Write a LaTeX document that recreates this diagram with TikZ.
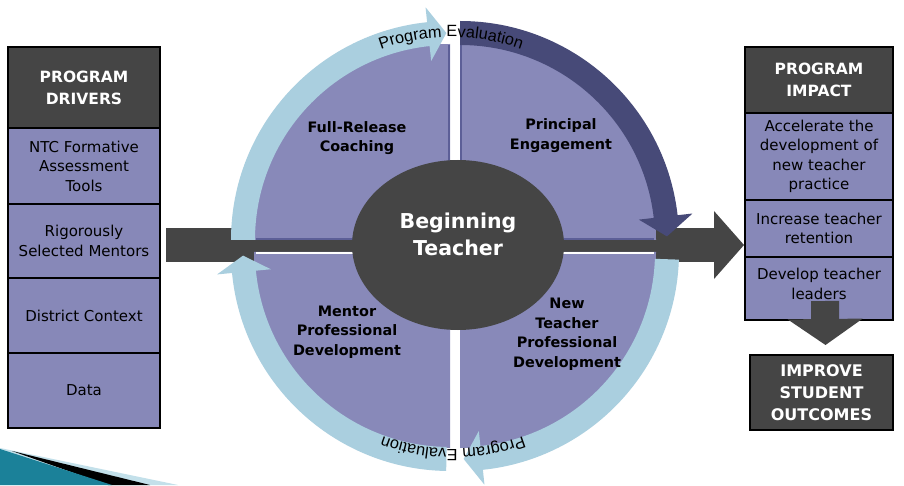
\documentclass[tikz,border=0pt]{standalone}
\usepackage{fontspec}
\setmainfont{DejaVu Sans}
\newfontfamily\evalfont{Liberation Sans}
\usetikzlibrary{calc,arrows.meta,decorations.text,shapes.geometric}

\definecolor{rowfill}{HTML}{8788B8}
\definecolor{headfill}{HTML}{454545}
\definecolor{quadfill}{HTML}{8889B9}
\definecolor{quadedge}{HTML}{5C5F97}
\definecolor{ringdark}{HTML}{474A78}
\definecolor{ringlight}{HTML}{AACFDF}
\definecolor{swooshteal}{HTML}{1B8199}
\definecolor{swooshlight}{HTML}{C3E0EA}

\tikzset{
  panelrow/.style={draw=black, line width=2pt, fill=rowfill, inner sep=0pt,
    align=center, font=\fontsize{15}{19.5}\selectfont},
  panelhead/.style={panelrow, fill=headfill, text=white,
    font=\bfseries\fontsize{15.5}{22}\selectfont},
  quadlabel/.style={align=center, inner sep=0pt,
    font=\bfseries\fontsize{14.4}{19.5}\selectfont},
  quad/.style={fill=quadfill},
  blockarrow/.style={draw=headfill, line width=#1},
  evaltext/.style={decorate, decoration={text along path, text align=center,
    text={|\evalfont\fontsize{16.3}{18}\selectfont|Program Evaluation}}},
}

\begin{document}
\begin{tikzpicture}[x=1pt, y=1pt]
\useasboundingbox (0,0) rectangle (904,485);
\fill[white] (0,0) rectangle (904,485);

% corner swoosh of the slide
\fill[swooshlight] (0,37) -- (178,0) -- (0,0) -- cycle;
\fill[black] (12,34) -- (150,0) -- (108,0) -- cycle;
\fill[swooshteal] (0,36) -- (112,0) -- (0,0) -- cycle;

% program drivers column
\node[panelhead, minimum width=152pt, minimum height=81pt] (ldh) at (84,397.5) {PROGRAM\\DRIVERS};
\node[panelrow, minimum width=152pt, minimum height=76pt] (l1) at (84,319) {NTC Formative\\Assessment\\Tools};
\node[panelrow, minimum width=152pt, minimum height=74pt] (l2) at (84,244) {Rigorously\\Selected Mentors};
\node[panelrow, minimum width=152pt, minimum height=75pt] (l3) at (84,169.5) {District Context};
\node[panelrow, minimum width=152pt, minimum height=75pt] (l4) at (84,94.5) {Data};

% program impact column
\node[panelhead, minimum width=148pt, minimum height=66pt] (rh) at (819,405) {PROGRAM\\IMPACT};
\node[panelrow, minimum width=148pt, minimum height=87pt] (r1) at (819,328.5) {Accelerate the\\development of\\new teacher\\practice};
\node[panelrow, minimum width=148pt, minimum height=57pt] (r2) at (819,256.5) {Increase teacher\\retention};
\node[panelrow, minimum width=148pt, minimum height=63pt, text depth=9pt] (r3) at (819,196.5) {Develop teacher\\leaders};
\node[panelhead, minimum width=143pt, minimum height=75pt,
  font=\bfseries\fontsize{16}{22}\selectfont] (imp) at (821.5,92.5) {IMPROVE\\STUDENT\\OUTCOMES};

% block arrows
\draw[blockarrow=34pt, -{Triangle[width=68pt,length=30pt,line width=0pt]}]
  ($(l2.east)+(5,-4)$) -- ($(r2.west)+(0,-16.5)$);
\draw[blockarrow=28pt, -{Triangle[width=75pt,length=26pt,line width=0pt]}]
  ($(r3.south)+(6,20)$) -- ($(imp.north)+(4,9)$);

% four quadrants
\fill[quad] (450,245) -- (254,245) arc[start angle=180,end angle=90,radius=196] -- cycle;
\fill[quad] (460,245) -- (460,441) arc[start angle=90,end angle=0,radius=196] -- cycle;
\fill[quad] (460,233) -- (656,233) arc[start angle=0,end angle=-90,radius=196] -- cycle;
\fill[quad] (450,233) -- (450,37) arc[start angle=-90,end angle=-180,radius=196] -- cycle;
\draw[quadedge, line width=1.5pt] (256,246) -- (449,246) -- (449,440);
\draw[quadedge, line width=1.5pt] (461,440) -- (461,246) -- (654,246);
\draw[white, line width=1.5pt] (256,232) -- (449,232);
\draw[white, line width=1.5pt] (461,232) -- (654,232);

% cycle rings
\begin{scope}[shift={(450,245)}]
  \fill[ringlight] (180:195) arc[start angle=180,end angle=96,radius=195]
    -- (96:180) -- (91:207) -- (96:234) -- (96:219)
    arc[start angle=96,end angle=180,radius=219] -- cycle;
\end{scope}
\begin{scope}[shift={(460,245)}]
  \fill[ringdark] (90:195) arc[start angle=90,end angle=6.5,radius=195]
    -- (6.5:180) -- (1:207) -- (6.5:234) -- (6.5:219)
    arc[start angle=6.5,end angle=90,radius=219] -- cycle;
\end{scope}
\begin{scope}[shift={(460,233)}]
  \fill[ringlight] (-2:195) arc[start angle=-2,end angle=-84,radius=195]
    -- (-84:180) -- (-89:207) -- (-84:234) -- (-84:219)
    arc[start angle=-84,end angle=-2,radius=219] -- cycle;
\end{scope}
\begin{scope}[shift={(450,233)}]
  \fill[ringlight] (-91:195) arc[start angle=-91,end angle=-174.5,radius=195]
    -- (-174.5:180) -- (-179:207) -- (-174.5:234) -- (-174.5:219)
    arc[start angle=-174.5,end angle=-91,radius=219] -- cycle;
\end{scope}

% ring captions
\begin{scope}[shift={(451,245)}]
  \path[evaltext] (150:203) arc[start angle=150,end angle=30,radius=203];
\end{scope}
\begin{scope}[shift={(453,233)}]
  \path[evaltext] (-30:197) arc[start angle=-30,end angle=-150,radius=197];
\end{scope}

% quadrant labels
\node[quadlabel] (q1) at (357,347) {Full-Release\\Coaching};
\node[quadlabel] (q2) at (561,349.5) {Principal\\Engagement};
\node[quadlabel] (q3) at (347,153) {Mentor\\Professional\\Development};
\node[quadlabel] (q4) at (567,151) {New\\Teacher\\Professional\\Development};

% centre
\node[ellipse, fill=headfill, inner sep=0pt, minimum width=212pt, minimum height=170pt] (bt) at (458,240) {};
\node[align=center, text=white, inner sep=0pt,
  font=\bfseries\fontsize{20.5}{27}\selectfont] (btl) at ($(bt.center)+(0,11)$) {Beginning\\Teacher};
\end{tikzpicture}
\end{document}
